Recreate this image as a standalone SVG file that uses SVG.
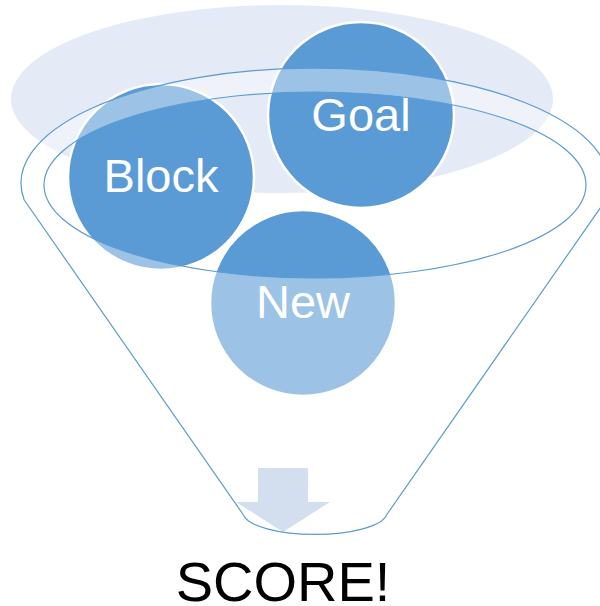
<svg xmlns="http://www.w3.org/2000/svg" width="600" height="606" viewBox="0 0 600 606">
  <style>
    .ball { fill: #5B9BD5; stroke: #FFFFFF; stroke-width: 2.5; }
    .ball-label { font-family: "Liberation Sans", Arial, sans-serif; font-size: 47px; fill: #FFFFFF; text-anchor: middle; }
    .funnel-body { fill: #FFFFFF; fill-opacity: 0.4; fill-rule: evenodd; stroke: #5B9BD5; stroke-width: 1.2; stroke-linejoin: round; }
    .result { font-family: "Liberation Sans", Arial, sans-serif; font-size: 56px; fill: #000000; text-anchor: middle; }
  </style>

  <!-- soft ellipse behind the funnel mouth -->
  <g id="backdrop">
    <ellipse cx="282" cy="99" rx="271" ry="94" fill="#E4EBF6"/>
  </g>

  <!-- items dropping into the funnel -->
  <g id="node-block">
    <circle class="ball" cx="161" cy="177" r="93"/>
    <text class="ball-label" x="161" y="192">Block</text>
  </g>
  <g id="node-goal">
    <circle class="ball" cx="361" cy="115" r="93"/>
    <text class="ball-label" x="361" y="131">Goal</text>
  </g>
  <g id="node-new">
    <circle class="ball" cx="303" cy="303" r="93"/>
    <text class="ball-label" x="303" y="318">New</text>
  </g>

  <!-- output arrow inside the funnel spout -->
  <g id="node-arrow">
    <polygon points="258,468 308,468 308,502 330,502 283,532 236,502 258,502" fill="#B6CAE4"/>
  </g>

  <!-- funnel: translucent body with the open mouth cut out -->
  <g id="node-funnel">
    <path class="funnel-body" d="M 24.2,200 A 294 115 0 1 1 605.8,200 L 386.5,515 A 72 22 0 0 1 243.5,515 Z M 44,185 A 271 93 0 1 0 586,185 A 271 93 0 1 0 44,185 Z"/>
  </g>

  <g id="connectors"/>

  <g id="node-score">
    <text class="result" x="283" y="601">SCORE!</text>
  </g>
</svg>
